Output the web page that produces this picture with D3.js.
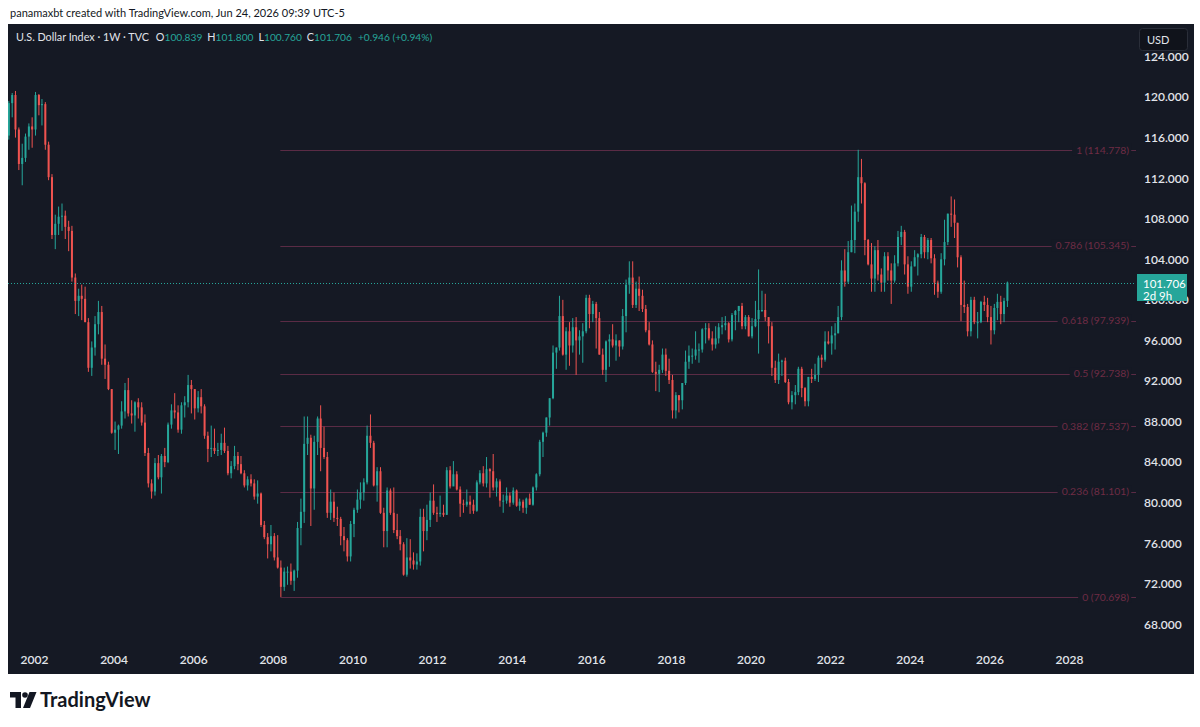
<!DOCTYPE html>
<html>
<head>
<meta charset="utf-8">
<script src="https://cdn.jsdelivr.net/npm/d3@7"></script>
<style>
  body { margin: 0; background: #ffffff; }
  text { font-family: Lato, "Noto Sans", sans-serif; }
</style>
</head>
<body>
<div id="chart"></div>
<script>
// U.S. Dollar Index, candles (one per month), May 2001 -> Jun 2026
var startYear = 2001, startMonth = 4; // May 2001
var firstOpen = 116.2;

var highs = [
  119.6, 120.4, 120.6, 117.0, 115.4, 116.4, 117.4, 118.0,
  120.5, 120.3, 119.8, 119.5, 115.6, 112.4, 108.4, 109.2, 109.5, 108.8, 107.8, 107.3,
  102.6, 101.1, 101.5, 101.3, 98.2, 95.9, 98.4, 99.9, 99.4, 95.6, 93.9, 91.2,
  88.0, 87.7, 90.0, 91.8, 92.3, 90.1, 90.0, 90.3, 89.9, 88.7, 85.4, 82.3,
  84.4, 84.7, 84.8, 85.4, 87.9, 89.7, 90.8, 89.6, 89.9, 90.5, 92.6, 92.1,
  91.2, 91.0, 91.2, 89.7, 87.0, 87.6, 87.3, 85.9, 86.8, 87.4, 85.6, 84.1,
  85.6, 85.0, 84.6, 83.2, 82.6, 82.8, 82.3, 82.2, 81.0, 78.2, 77.0, 77.8,
  77.0, 76.8, 74.3, 73.6, 73.7, 74.0, 73.4, 78.1, 80.4, 88.5, 88.5, 86.7,
  86.6, 88.5, 89.6, 87.5, 85.0, 81.3, 81.0, 79.6, 78.6, 77.6, 76.5, 78.2,
  79.5, 81.3, 82.0, 82.4, 87.6, 88.7, 86.1, 83.5, 83.5, 79.5, 81.5, 81.4,
  81.5, 78.9, 77.3, 76.1, 76.5, 76.4, 75.1, 75.0, 79.4, 79.4, 79.8, 81.0,
  81.8, 79.6, 80.7, 79.8, 83.5, 83.6, 84.1, 83.1, 81.6, 80.3, 81.3, 80.7,
  80.3, 82.2, 83.2, 83.6, 84.5, 83.4, 84.8, 82.4, 82.3, 80.8, 81.5, 81.0,
  81.5, 81.3, 80.4, 80.3, 80.5, 80.9, 81.6, 82.9, 86.2, 87.0, 88.4, 90.3,
  95.5, 95.3, 100.4, 100.0, 97.3, 97.8, 98.2, 98.3, 97.0, 97.7, 100.5, 100.5,
  99.9, 99.8, 98.8, 95.2, 96.0, 96.6, 97.6, 96.6, 96.0, 99.1, 102.0, 103.8,
  103.8, 101.8, 102.3, 101.0, 99.5, 97.8, 96.0, 93.9, 93.6, 95.2, 95.2, 94.2,
  92.6, 90.9, 90.6, 91.8, 95.0, 95.5, 95.2, 96.9, 95.7, 97.2, 97.7, 97.7,
  96.9, 97.4, 97.7, 98.3, 98.4, 97.8, 98.7, 99.0, 99.4, 99.7, 98.5, 98.5,
  98.2, 99.9, 103.0, 100.9, 100.6, 98.3, 97.8, 94.0, 94.7, 94.1, 94.3, 92.2,
  91.0, 91.6, 93.4, 93.4, 91.4, 92.4, 93.2, 93.7, 94.5, 94.6, 96.9, 96.9,
  97.4, 97.7, 99.4, 103.9, 105.0, 105.8, 109.3, 109.5, 114.8, 113.9, 111.6, 106.0,
  105.6, 105.3, 105.9, 103.1, 104.7, 104.7, 103.6, 104.4, 106.8, 107.3, 106.9, 104.3,
  103.8, 104.9, 104.6, 106.5, 106.4, 106.1, 106.1, 104.5, 101.9, 104.6, 107.9, 108.5,
  110.2, 109.9, 107.6, 104.4, 101.9, 99.6, 100.3, 100.3, 98.8, 99.9, 100.4, 100.2,
  99.4, 99.6, 100.6, 100.4, 100.2, 101.8
];

var lows = [
  115.8, 118.0, 116.0, 112.8, 111.3, 113.6, 114.8, 115.0,
  116.2, 118.2, 117.2, 114.8, 111.8, 106.0, 105.0, 106.4, 106.8, 106.0, 104.8, 101.8,
  98.6, 98.4, 98.0, 97.8, 92.9, 92.5, 94.5, 96.6, 93.6, 92.2, 91.1, 86.8,
  85.2, 84.8, 87.3, 88.3, 88.5, 87.8, 87.0, 88.3, 87.6, 84.6, 81.5, 80.4,
  80.7, 82.3, 80.9, 83.5, 83.9, 87.3, 88.3, 86.9, 86.8, 88.4, 89.4, 88.8,
  88.2, 88.9, 88.8, 86.3, 84.0, 84.5, 84.8, 84.6, 84.7, 84.9, 82.7, 82.4,
  83.3, 83.2, 82.8, 81.5, 81.2, 81.6, 80.3, 79.9, 77.6, 76.4, 74.5, 75.2,
  74.3, 73.5, 70.7, 71.3, 71.9, 71.9, 71.3, 72.6, 75.8, 78.0, 84.7, 77.7,
  79.3, 84.7, 83.1, 84.3, 78.5, 78.3, 78.1, 77.7, 75.8, 75.2, 74.2, 74.2,
  76.6, 79.0, 79.4, 80.2, 81.8, 85.4, 81.6, 80.1, 78.9, 75.6, 75.6, 78.8,
  77.0, 76.4, 75.3, 72.8, 72.7, 73.5, 73.4, 73.4, 73.8, 75.2, 76.3, 77.6,
  78.8, 78.1, 78.6, 78.6, 78.8, 81.4, 81.7, 81.2, 78.6, 79.0, 79.6, 78.9,
  78.9, 79.1, 81.8, 81.6, 81.5, 80.5, 81.2, 80.6, 79.6, 79.0, 79.9, 79.6,
  79.8, 79.6, 79.2, 79.0, 78.9, 79.8, 79.7, 81.2, 82.6, 84.5, 86.5, 87.6,
  90.2, 93.2, 95.0, 94.5, 93.1, 93.5, 94.8, 92.6, 94.6, 93.8, 96.7, 97.2,
  97.8, 95.2, 94.6, 92.6, 91.9, 93.4, 95.3, 94.0, 94.4, 95.1, 96.8, 100.6,
  99.2, 99.2, 98.9, 98.8, 96.8, 95.5, 92.8, 91.0, 90.9, 92.8, 92.5, 91.7,
  88.3, 88.3, 88.9, 89.2, 91.6, 93.2, 93.7, 94.1, 93.8, 94.8, 95.7, 96.0,
  95.0, 95.2, 95.7, 96.6, 97.0, 95.8, 95.9, 97.0, 97.8, 97.1, 97.1, 96.4,
  96.2, 97.3, 94.7, 98.8, 97.9, 95.7, 92.5, 91.8, 91.7, 92.5, 91.8, 89.7,
  89.2, 89.7, 90.6, 90.4, 89.5, 89.5, 91.8, 92.0, 91.9, 93.3, 93.9, 95.6,
  94.6, 95.1, 96.7, 98.0, 101.3, 101.6, 104.7, 104.6, 107.7, 109.5, 104.4, 103.4,
  100.8, 100.8, 101.9, 100.8, 100.8, 101.9, 99.6, 101.7, 103.3, 105.4, 102.5, 100.6,
  100.8, 103.3, 102.4, 104.1, 104.1, 104.0, 103.6, 100.5, 100.2, 100.6, 103.4, 105.4,
  107.2, 106.1, 103.2, 97.9, 98.7, 96.4, 96.4, 97.6, 96.2, 97.7, 98.9, 97.8,
  95.6, 96.6, 98.0, 97.6, 97.8, 99.3
];

var closes = [
  119.4, 120.2, 116.8, 113.4, 114.0, 116.1, 117.1, 116.8,
  120.2, 119.2, 119.3, 115.3, 112.1, 106.4, 107.5, 108.2, 108.3, 107.2, 106.8, 102.2,
  99.9, 100.4, 100.1, 97.8, 93.3, 95.3, 97.6, 98.8, 94.2, 93.6, 91.2, 86.9,
  87.2, 87.6, 89.0, 91.1, 88.8, 88.6, 89.9, 89.4, 87.9, 84.9, 81.9, 81.1,
  83.9, 82.5, 84.6, 84.0, 87.7, 89.1, 88.9, 87.2, 89.6, 89.9, 91.6, 91.2,
  89.3, 90.4, 89.5, 86.6, 85.3, 85.4, 85.1, 85.2, 85.9, 85.1, 82.9, 83.6,
  84.6, 83.8, 82.9, 81.7, 82.3, 81.9, 80.6, 80.9, 77.8, 76.6, 75.9, 76.7,
  74.6, 73.6, 71.7, 73.2, 73.2, 72.3, 73.3, 77.5, 79.1, 85.8, 86.4, 81.4,
  86.0, 88.3, 85.4, 84.5, 79.0, 80.1, 78.5, 78.4, 76.7, 76.3, 74.7, 77.9,
  79.3, 80.3, 81.0, 82.0, 86.6, 85.9, 81.7, 83.1, 79.0, 77.2, 81.2, 79.0,
  77.3, 76.7, 75.9, 72.9, 74.6, 74.3, 73.9, 74.2, 78.6, 77.2, 78.3, 80.2,
  79.0, 78.9, 79.0, 78.8, 83.2, 81.6, 82.8, 81.3, 79.9, 79.8, 80.1, 79.8,
  79.2, 82.0, 82.9, 81.9, 83.3, 83.1, 81.5, 82.1, 80.2, 80.2, 80.7, 80.0,
  81.2, 79.7, 80.1, 79.5, 80.4, 79.8, 81.5, 82.8, 86.0, 86.9, 88.4, 90.3,
  94.8, 95.3, 98.4, 94.6, 96.9, 95.5, 97.3, 96.0, 96.4, 96.9, 100.2, 98.6,
  99.6, 98.2, 94.6, 93.1, 95.9, 96.1, 95.5, 96.0, 95.4, 98.4, 101.5, 102.2,
  99.5, 101.1, 100.4, 99.1, 97.0, 95.6, 92.9, 92.7, 93.1, 94.6, 93.0, 92.1,
  89.1, 90.6, 90.1, 91.8, 93.9, 94.5, 94.5, 95.1, 95.1, 97.1, 97.2, 96.2,
  95.6, 96.2, 97.3, 97.5, 97.7, 96.1, 98.5, 98.9, 99.4, 97.4, 98.3, 96.4,
  97.4, 98.1, 99.0, 99.0, 98.3, 97.4, 93.3, 92.1, 93.9, 94.0, 91.9, 89.9,
  90.6, 90.9, 93.2, 91.3, 90.0, 92.4, 92.2, 92.6, 94.3, 94.1, 95.9, 95.7,
  96.5, 96.7, 98.3, 102.9, 101.8, 104.7, 105.9, 108.7, 112.1, 111.5, 105.9, 103.5,
  102.1, 104.9, 102.5, 101.7, 104.3, 102.9, 101.9, 103.6, 106.2, 106.7, 103.5, 101.3,
  103.3, 104.2, 104.5, 106.2, 104.7, 105.9, 104.1, 101.7, 100.8, 104.0, 105.7, 108.5,
  108.4, 107.6, 104.2, 99.5, 99.3, 96.9, 100.0, 97.8, 97.8, 99.8, 99.5, 98.3,
  97.0, 99.2, 99.8, 98.6, 99.9, 101.706
];

// Fibonacci retracement (2008 low -> 2022 high)
var fibRatios = ["0", "0.236", "0.382", "0.5", "0.618", "0.786", "1"];
var fibPrices = [70.698, 81.101, 87.537, 92.738, 97.939, 105.345, 114.778];
var fibStart = new Date(2008, 2, 10);

var priceTicks = [68, 72, 76, 80, 84, 88, 92, 96, 100, 104, 108, 112, 116, 120, 124];
var yearTicks = [2002, 2004, 2006, 2008, 2010, 2012, 2014, 2016, 2018, 2020, 2022, 2024, 2026, 2028];

var lastPrice = 101.706;
var lastCountdown = "2d 9h";
var legendTitle = "U.S. Dollar Index · 1W · TVC";
var legendLabels = ["O", "H", "L", "C"];
var legendValues = ["100.839", "101.800", "100.760", "101.706"];
var legendChange = "+0.946 (+0.94%)";
var headerText = "panamaxbt created with TradingView.com, Jun 24, 2026 09:39 UTC-5";

// colours
var bgColor = "#151924";
var upColor = "#26a69a";
var downColor = "#ef5350";
var fibLineColor = "#5a2b45";
var fibTextColor = "#6f2c45";
var axisTextColor = "#e1e4ea";

// layout
var svgWidth = 1200, svgHeight = 727;
var panel = { left: 8, top: 24, right: 1194, bottom: 674 };
var plot = { left: 8, top: 24, right: 1136, bottom: 648 };

var svg = d3.select("#chart")
  .append("svg")
  .attr("width", svgWidth)
  .attr("height", svgHeight);

// header line on white
svg.append("text")
  .attr("x", 10)
  .attr("y", 17)
  .attr("font-size", 11)
  .attr("fill", "#131722")
  .text(headerText);

// dark panel
svg.append("rect")
  .attr("x", panel.left)
  .attr("y", panel.top)
  .attr("width", panel.right - panel.left)
  .attr("height", panel.bottom - panel.top)
  .attr("fill", bgColor);

// scales
var xScale = d3.scaleTime()
  .domain([new Date(2002, 0, 1), new Date(2028, 0, 1)])
  .range([34, 1069]);

var yScale = d3.scaleLinear()
  .domain([fibPrices[0], fibPrices[fibPrices.length - 1]])
  .range([597, 150]);

// build candles
var candles = closes.map(function (c, i) {
  return {
    date: new Date(startYear, startMonth + i, 15),
    open: i === 0 ? firstOpen : closes[i - 1],
    high: highs[i],
    low: lows[i],
    close: c
  };
});

svg.append("clipPath")
  .attr("id", "plotClip")
  .append("rect")
  .attr("x", plot.left)
  .attr("y", plot.top)
  .attr("width", plot.right - plot.left)
  .attr("height", plot.bottom - plot.top);

// fib lines
var fibGroup = svg.append("g").attr("clip-path", "url(#plotClip)");
fibGroup.selectAll("line")
  .data(fibPrices)
  .enter()
  .append("line")
  .attr("x1", xScale(fibStart))
  .attr("x2", plot.right)
  .attr("y1", function (d) { return Math.round(yScale(d)) + 0.5; })
  .attr("y2", function (d) { return Math.round(yScale(d)) + 0.5; })
  .attr("stroke", fibLineColor)
  .attr("stroke-width", 1);

// fib labels (background box hides the line behind the text)
fibPrices.forEach(function (p, i) {
  var g = fibGroup.append("g");
  var bgBox = g.append("rect").attr("fill", bgColor);
  var t = g.append("text")
    .attr("x", 1129)
    .attr("y", yScale(p))
    .attr("dy", "0.35em")
    .attr("text-anchor", "end")
    .attr("font-size", 10.4)
    .attr("fill", fibTextColor)
    .text(fibRatios[i] + " (" + p.toFixed(3) + ")");
  var bb = t.node().getBBox();
  bgBox.attr("x", bb.x - 4)
    .attr("y", bb.y)
    .attr("width", bb.width + 6)
    .attr("height", bb.height);
});

// candles
var candleGroup = svg.append("g").attr("clip-path", "url(#plotClip)");
var color = function (d) { return d.close >= d.open ? upColor : downColor; };

candleGroup.selectAll("line.wick")
  .data(candles)
  .enter()
  .append("line")
  .attr("class", "wick")
  .attr("x1", function (d) { return xScale(d.date); })
  .attr("x2", function (d) { return xScale(d.date); })
  .attr("y1", function (d) { return yScale(d.high); })
  .attr("y2", function (d) { return yScale(d.low); })
  .attr("stroke", color)
  .attr("stroke-width", 1);

candleGroup.selectAll("rect.body")
  .data(candles)
  .enter()
  .append("rect")
  .attr("class", "body")
  .attr("x", function (d) { return xScale(d.date) - 1; })
  .attr("width", 2)
  .attr("y", function (d) { return yScale(Math.max(d.open, d.close)); })
  .attr("height", function (d) {
    return Math.max(1, Math.abs(yScale(d.open) - yScale(d.close)));
  })
  .attr("fill", color);

// last price dotted line
svg.append("line")
  .attr("x1", plot.left)
  .attr("x2", plot.right)
  .attr("y1", Math.round(yScale(lastPrice)) + 0.5)
  .attr("y2", Math.round(yScale(lastPrice)) + 0.5)
  .attr("stroke", upColor)
  .attr("stroke-width", 1)
  .attr("stroke-dasharray", "1,2");

// price axis
var priceAxis = svg.append("g")
  .attr("transform", "translate(" + plot.right + ",0)")
  .call(d3.axisRight(yScale)
    .tickValues(priceTicks)
    .tickFormat(d3.format(".3f"))
    .tickSize(0)
    .tickPadding(8));
priceAxis.select(".domain").remove();
priceAxis.selectAll("text")
  .attr("font-family", "Lato, 'Noto Sans', sans-serif")
  .attr("font-size", 12)
  .attr("font-weight", 600)
  .attr("fill", axisTextColor);

// time axis
var timeAxis = svg.append("g")
  .attr("transform", "translate(0,655)")
  .call(d3.axisBottom(xScale)
    .tickValues(yearTicks.map(function (y) { return new Date(y, 0, 1); }))
    .tickFormat(d3.timeFormat("%Y"))
    .tickSize(0)
    .tickPadding(0));
timeAxis.select(".domain").remove();
timeAxis.selectAll("text")
  .attr("font-family", "Lato, 'Noto Sans', sans-serif")
  .attr("font-size", 12)
  .attr("font-weight", 600)
  .attr("fill", axisTextColor);

// last price label (covers the upper part of the 100.000 tick, as in the original)
var ly = Math.round(yScale(lastPrice));
svg.append("rect")
  .attr("x", 1137)
  .attr("y", ly - 9)
  .attr("width", 50)
  .attr("height", 27)
  .attr("fill", upColor);
svg.append("text")
  .attr("x", 1143)
  .attr("y", ly + 1)
  .attr("dy", "0.35em")
  .attr("font-size", 11.5)
  .attr("fill", "#ffffff")
  .text(lastPrice.toFixed(3));
svg.append("text")
  .attr("x", 1143)
  .attr("y", ly + 13)
  .attr("dy", "0.35em")
  .attr("font-size", 11.5)
  .attr("fill", "#ffffff")
  .text(lastCountdown);

// currency box
svg.append("rect")
  .attr("x", 1139.5)
  .attr("y", 28.5)
  .attr("width", 48)
  .attr("height", 22)
  .attr("rx", 3)
  .attr("fill", "#10131b")
  .attr("stroke", "#2a2e39");
svg.append("text")
  .attr("x", 1147)
  .attr("y", 40)
  .attr("dy", "0.35em")
  .attr("font-size", 11)
  .attr("fill", "#e1e4ea")
  .text("USD");

// legend
var legend = svg.append("text")
  .attr("x", 16)
  .attr("y", 37)
  .attr("dy", "0.35em")
  .attr("font-size", 10.8)
  .attr("fill", "#e1e4ea");
legend.append("tspan").text(legendTitle);
legendLabels.forEach(function (lab, i) {
  legend.append("tspan").attr("dx", i === 0 ? 7 : 5).text(lab);
  legend.append("tspan").attr("fill", upColor).attr("font-size", 10.2).text(legendValues[i]);
});
legend.append("tspan").attr("dx", 6).attr("fill", upColor).attr("font-size", 10.2).text(legendChange);

// TradingView logo
var logo = svg.append("g").attr("fill", "#131722");
logo.append("path").attr("d", "M10,692 h11 v16 h-5.5 v-10.5 h-5.5 z");
logo.append("circle").attr("cx", 25).attr("cy", 695).attr("r", 2.8);
logo.append("path").attr("d", "M29.5,692 h7 l-6.5,16 h-7 z");
svg.append("text")
  .attr("x", 40)
  .attr("y", 700)
  .attr("dy", "0.35em")
  .attr("font-size", 20)
  .attr("font-weight", 700)
  .attr("fill", "#131722")
  .text("TradingView");
</script>
</body>
</html>
